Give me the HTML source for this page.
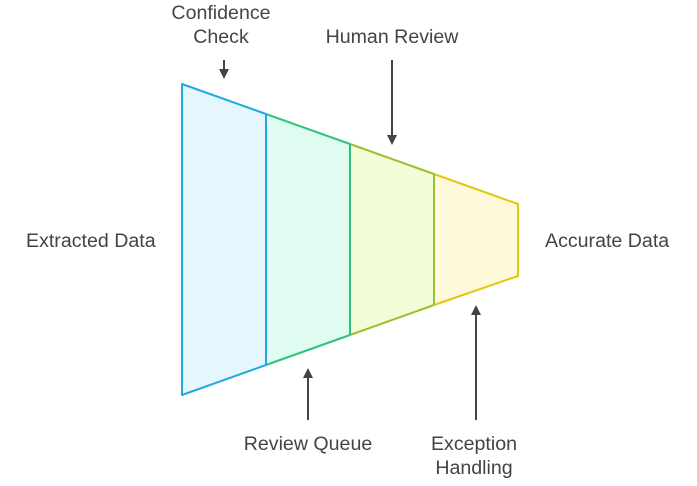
<!DOCTYPE html>
<html><head><meta charset="utf-8"><style>
html,body{margin:0;padding:0;background:#fff;}
svg text{font-family:"Liberation Sans",sans-serif;font-size:19.6px;fill:#444;}
</style></head><body>
<svg width="697" height="481" viewBox="0 0 697 481" xmlns="http://www.w3.org/2000/svg">
<defs>
<marker id="ah" markerWidth="10" markerHeight="10" refX="5" refY="5" orient="auto" markerUnits="userSpaceOnUse">
<path d="M0,0 L10,5 L0,10 z" fill="#444"/>
</marker>
</defs>
<polygon points="182,84 266,114 266,365 182,395" fill="#e6f6fd" stroke="#1eaadc" stroke-width="2" stroke-linejoin="round"/>
<polygon points="266,114 350,144 350,335 266,365" fill="#e0fbef" stroke="#2ec27e" stroke-width="2" stroke-linejoin="round"/>
<polygon points="350,144 434,174 434,305 350,335" fill="#f3fcd9" stroke="#9dbf2e" stroke-width="2" stroke-linejoin="round"/>
<polygon points="434,174 518,204 518,276 434,305" fill="#fff9db" stroke="#e2c710" stroke-width="2" stroke-linejoin="round"/>
<line x1="266" y1="114" x2="266" y2="365" stroke="#1eaadc" stroke-width="2"/>
<line x1="350" y1="144" x2="350" y2="335" stroke="#2ec27e" stroke-width="2"/>
<line x1="434" y1="174" x2="434" y2="305" stroke="#9dbf2e" stroke-width="2"/>
<g stroke="#444" stroke-width="2" fill="none">
<line x1="224" y1="60" x2="224" y2="74" marker-end="url(#ah)"/>
<line x1="392" y1="60" x2="392" y2="140" marker-end="url(#ah)"/>
<line x1="308" y1="420" x2="308" y2="373" marker-end="url(#ah)"/>
<line x1="476" y1="420" x2="476" y2="310" marker-end="url(#ah)"/>
</g>
<text x="221" y="19" text-anchor="middle">Confidence</text>
<text x="221" y="43" text-anchor="middle">Check</text>
<text x="392" y="43" text-anchor="middle">Human Review</text>
<text x="26" y="247">Extracted Data</text>
<text x="545" y="247">Accurate Data</text>
<text x="308" y="450" text-anchor="middle">Review Queue</text>
<text x="474" y="450" text-anchor="middle">Exception</text>
<text x="474" y="474" text-anchor="middle">Handling</text>
</svg>
</body></html>
